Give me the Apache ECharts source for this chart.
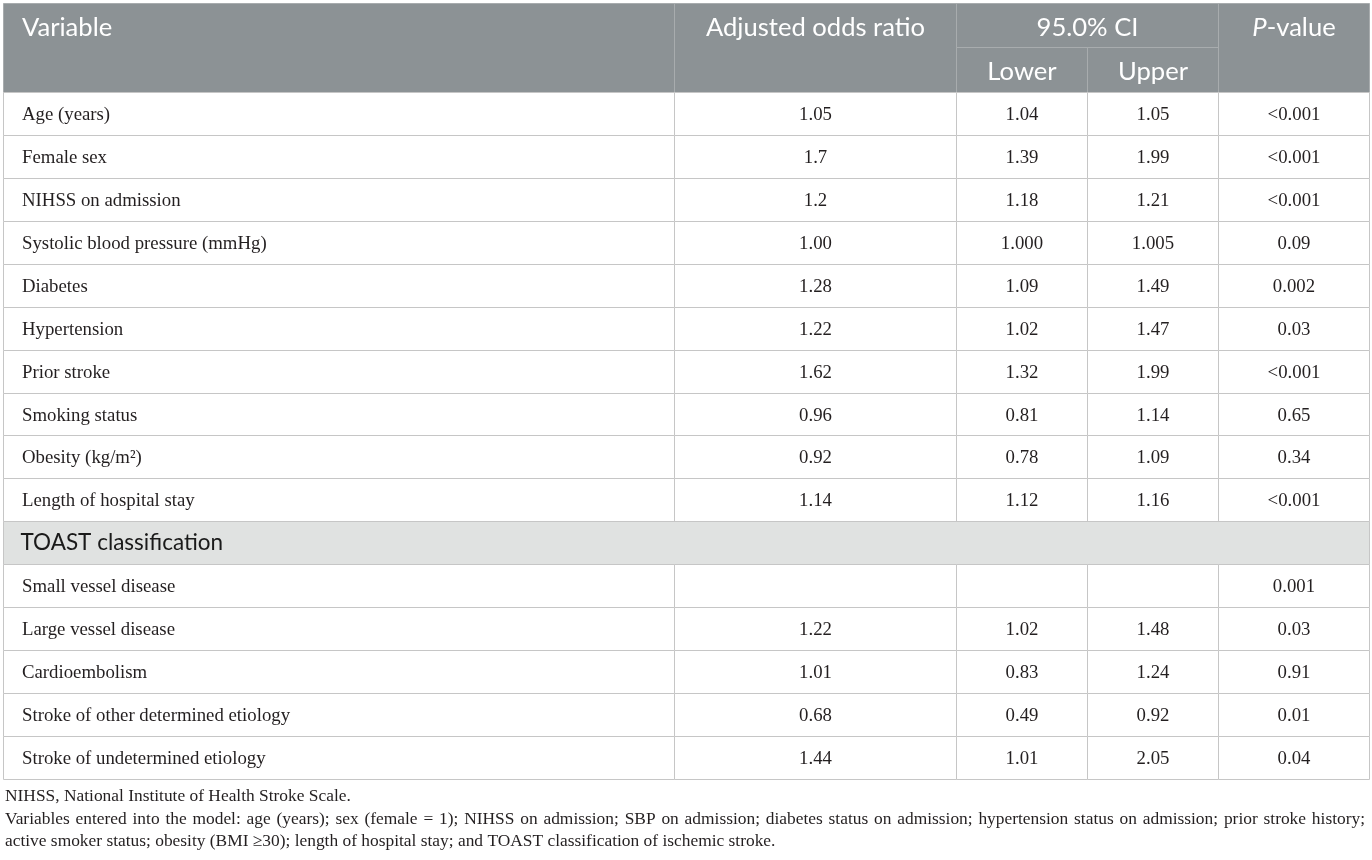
<!DOCTYPE html>
<html>
<head>
<meta charset="utf-8">
<script src="https://cdn.jsdelivr.net/npm/echarts@6/dist/echarts.min.js"></script>
<style>
html,body{margin:0;padding:0;background:#fff;}
#chart{width:1372px;height:860px;}
</style>
</head>
<body>
<div id="chart"></div>
<script>
// ---- data ----
const headVariable = 'Variable';
const headOdds = 'Adjusted odds ratio';
const headCI = '95.0% CI';
const headLower = 'Lower';
const headUpper = 'Upper';
const headP = '{i|P}-value';

const variables = ['Age (years)', 'Female sex', 'NIHSS on admission', 'Systolic blood pressure (mmHg)', 'Diabetes', 'Hypertension', 'Prior stroke', 'Smoking status', 'Obesity (kg/m²)', 'Length of hospital stay'];
const oddsRatio = ['1.05', '1.7', '1.2', '1.00', '1.28', '1.22', '1.62', '0.96', '0.92', '1.14'];
const ciLower = ['1.04', '1.39', '1.18', '1.000', '1.09', '1.02', '1.32', '0.81', '0.78', '1.12'];
const ciUpper = ['1.05', '1.99', '1.21', '1.005', '1.49', '1.47', '1.99', '1.14', '1.09', '1.16'];
const pValues = ['<0.001', '<0.001', '<0.001', '0.09', '0.002', '0.03', '<0.001', '0.65', '0.34', '<0.001'];

const groupLabel = 'TOAST classification';
const toastVariables = ['Small vessel disease', 'Large vessel disease', 'Cardioembolism', 'Stroke of other determined etiology', 'Stroke of undetermined etiology'];
const toastOdds = ['', '1.22', '1.01', '0.68', '1.44'];
const toastLower = ['', '1.02', '0.83', '0.49', '1.01'];
const toastUpper = ['', '1.48', '1.24', '0.92', '2.05'];
const toastP = ['0.001', '0.03', '0.91', '0.01', '0.04'];

const footnote1 = 'NIHSS, National Institute of Health Stroke Scale.';
const footnote2Lines = [
  'Variables entered into the model: age (years); sex (female = 1); NIHSS on admission; SBP on admission; diabetes status on admission; hypertension status on admission; prior stroke history;',
  'active smoker status; obesity (BMI ≥30); length of hospital stay; and TOAST classification of ischemic stroke.'
];

// ---- layout ----
const colEdges = [0, 671, 952.5, 1084, 1215, 1366];
const headScale = 1.036;
function rowTop(r) { return r <= 2 ? r * headScale : 2 * headScale + (r - 2); }
const totalRows = rowTop(18);

const cells = [];
cells.push({c0:0,c1:1,r0:0,r1:2,text:headVariable,kind:'head',align:'left'});
cells.push({c0:1,c1:2,r0:0,r1:2,text:headOdds,kind:'head'});
cells.push({c0:2,c1:4,r0:0,r1:1,text:headCI,kind:'head'});
cells.push({c0:2,c1:3,r0:1,r1:2,text:headLower,kind:'head'});
cells.push({c0:3,c1:4,r0:1,r1:2,text:headUpper,kind:'head'});
cells.push({c0:4,c1:5,r0:0,r1:2,text:headP,kind:'head'});
function addRow(r, vals) {
  vals.forEach((v, c) => cells.push({c0:c,c1:c+1,r0:r,r1:r+1,text:v,kind:'body',align:c===0?'left':'center'}));
}
variables.forEach((v, i) => addRow(2 + i, [v, oddsRatio[i], ciLower[i], ciUpper[i], pValues[i]]));
cells.push({c0:0,c1:5,r0:12,r1:13,text:groupLabel,kind:'group',align:'left'});
toastVariables.forEach((v, i) => addRow(13 + i, [v, toastOdds[i], toastLower[i], toastUpper[i], toastP[i]]));

// ---- footnotes (justified paragraph) ----
const footFont = '17.4px "Liberation Serif", "DejaVu Serif", serif';
const footLeft = 5, footRight = 1365, footTop = 788, footGap = 22.6;
const measureCtx = document.createElement('canvas').getContext('2d');
measureCtx.font = footFont;
const footGraphics = [];
function plainText(t, line) {
  footGraphics.push({type: 'text', left: footLeft, top: footTop + line * footGap,
    style: {text: t, font: footFont, fill: '#231f20'}});
}
function justifiedText(t, line) {
  const words = t.split(' ');
  const widths = words.map(w => measureCtx.measureText(w).width);
  const total = widths.reduce((a, b) => a + b, 0);
  const gap = (footRight - footLeft - total) / (words.length - 1);
  let x = footLeft;
  words.forEach((w, i) => {
    footGraphics.push({type: 'text', left: x, top: footTop + line * footGap,
      style: {text: w, font: footFont, fill: '#231f20'}});
    x += widths[i] + gap;
  });
}
plainText(footnote1, 0);
justifiedText(footnote2Lines[0], 1);
plainText(footnote2Lines[1], 2);

const chart = echarts.init(document.getElementById('chart'));
const crisp = v => Math.round(v) + 0.5;

chart.setOption({
  animation: false,
  grid: {left: 3, right: 3, top: 3, bottom: 81},
  xAxis: {type: 'value', min: 0, max: colEdges[colEdges.length - 1], show: false},
  yAxis: {type: 'value', min: 0, max: totalRows, inverse: true, show: false},
  graphic: footGraphics,
  series: [{
    type: 'custom',
    coordinateSystem: 'cartesian2d',
    encode: {x: 0, y: 1},
    data: cells.map(c => [colEdges[c.c0], rowTop(c.r0)]),
    clip: false,
    renderItem: function (params, api) {
      const c = cells[params.dataIndex];
      const p0 = api.coord([colEdges[c.c0], rowTop(c.r0)]);
      const p1 = api.coord([colEdges[c.c1], rowTop(c.r1)]);
      const x0 = crisp(p0[0]), y0 = crisp(p0[1]), x1 = crisp(p1[0]), y1 = crisp(p1[1]);
      let fill = '#ffffff', stroke = '#c6c6c6', font, color, ty;
      if (c.kind === 'head') {
        fill = '#8c9295'; stroke = '#a8acae';
        font = '25.6px Lato, "Open Sans", sans-serif'; color = '#ffffff';
        const firstRowBottom = api.coord([0, rowTop(c.r0 + 1)])[1];
        ty = (y0 + firstRowBottom) / 2 + 2;
      } else if (c.kind === 'group') {
        fill = '#e0e2e1';
        font = '22.5px Lato, "Open Sans", sans-serif'; color = '#1a1a1a';
        ty = (y0 + y1) / 2;
      } else {
        font = '18.8px "Liberation Serif", "DejaVu Serif", serif'; color = '#231f20';
        ty = (y0 + y1) / 2 + 1.5;
      }
      const left = c.align === 'left';
      const tx = left ? x0 + (c.kind === 'group' ? 17 : 18.5) : (x0 + x1) / 2;
      return {
        type: 'group',
        children: [
          {type: 'rect', shape: {x: x0, y: y0, width: x1 - x0, height: y1 - y0},
           style: {fill: fill, stroke: stroke, lineWidth: 1}},
          {type: 'text', style: {
            text: c.text, x: tx, y: ty, font: font, fill: color,
            align: left ? 'left' : 'center', verticalAlign: 'middle',
            rich: {i: {fontStyle: 'italic', fontSize: 25.6, fontFamily: 'Lato', fill: '#ffffff'}}
          }}
        ]
      };
    }
  }]
});
</script>
</body>
</html>
